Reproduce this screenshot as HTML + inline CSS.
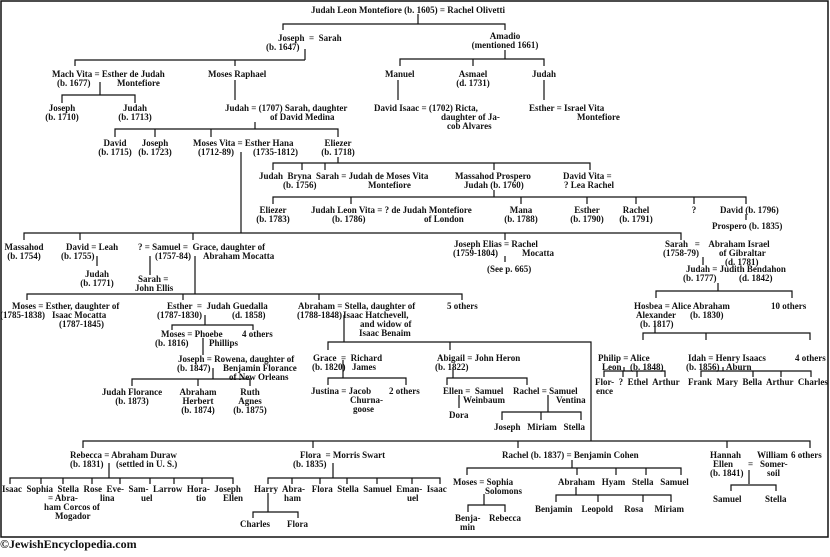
<!DOCTYPE html>
<html><head><meta charset="utf-8"><style>
html,body{margin:0;padding:0;background:#fff;}
#w{position:relative;width:830px;height:557px;overflow:hidden;font-family:"Liberation Serif",serif;font-weight:bold;font-size:9px;line-height:9px;color:#111;}
#w div{position:absolute;white-space:pre;}
.c{transform:translateX(-50%);text-align:center;}
svg{position:absolute;left:0;top:0;}
#ft{font-size:12px;line-height:12px;left:0;top:538px;}
</style></head><body><div id="w">
<svg width="830" height="557"><g stroke="#111" stroke-width="1.2" fill="none">
<rect x="1" y="1" width="827" height="536" stroke-width="1.5"/>
<path d="M418 14V24M283 30V24H505V30M305 49V60M75 66V60H305M235 66V60M505 50V59M400 66V59H544V66M473 59V66"/>
<path d="M100 82V95M62 103V95H135V103M235 80V100M398 80V100M544 80V100"/>
<path d="M255 122V129M115 137V129H338V137M155 129V137M211 129V137M241 152V233M338 157V163M273 170V163H590V170M302 163V170M325 163V170M494 163V170"/>
<path d="M494 190V197M273 204V197H746V204M351 197V204M521 197V204M587 197V204M636 197V204M694 197V204M746 214V220"/>
<path d="M24 240V233H681V240M80 233V240M193 233V240M505 233V240M505 256V262M97 256V266M150 256V275M195 256V294M703 257V265"/>
<path d="M27 300V294H462V300M183 294V300M319 294V300M718 283V291M656 298V291H792V298"/>
<path d="M205 315V325M172 330V325H253V330M203 338V355M213 368V379M132 386V379H250V386M198 379V386"/>
<path d="M344 315V342M328 350V342H591V441M450 342V350M343 360V378M328 385V378H406V385"/>
<path d="M655 323V333M643 340V333H810V340M706 333V340"/>
<path d="M624 367V371M604 377V371H665V377M623 371V377M637 371V377M723 367V371M701 377V371H811V377M753 371V377M781 371V377"/>
<path d="M453 367V378M447 385V378H527V385M459 395V408M548 395V412M502 420V412H581V420M541 412V420"/>
<path d="M83 448V441H810V448M313 441V448M518 441V448M727 441V448"/>
<path d="M109 463V478M10 484V478H233V484M41 478V484M63 478V484M92 478V484M120 478V484M150 478V484M174 478V484M202 478V484"/>
<path d="M333 463V478M268 484V478H440V484M292 478V484M320 478V484M347 478V484M377 478V484M412 478V484M268 493V512M253 518V512H298V518"/>
<path d="M572 460V468M467 475V468H681V475M577 468V475M616 468V475M646 468V475M484 494V505M468 512V505H505V512M576 487V495M556 502V495H671V502M598 495V502M643 495V502"/>
<path d="M749 470V484M731 491V485H776V491"/>
</g></svg>
<div style="left:311px;top:6px">Judah Leon Montefiore (b. 1605) = Rachel Olivetti</div>
<div style="left:278px;top:34px">Joseph  =  Sarah</div><div style="left:266px;top:43px">(b. 1647)</div>
<div class="c" style="left:505px;top:32px">Amadio
(mentioned 1661)</div>
<div style="left:52px;top:70px">Mach Vita = Esther de Judah</div><div style="left:57px;top:79px">(b. 1677)</div><div style="left:117px;top:79px">Montefiore</div>
<div style="left:208px;top:70px">Moses Raphael</div>
<div style="left:385px;top:70px">Manuel</div>
<div class="c" style="left:473px;top:70px">Asmael
(d. 1731)</div>
<div class="c" style="left:544px;top:70px">Judah</div>
<div class="c" style="left:62px;top:104px">Joseph
(b. 1710)</div>
<div class="c" style="left:135px;top:104px">Judah
(b. 1713)</div>
<div style="left:225px;top:104px">Judah = (1707) Sarah, daughter</div><div style="left:270px;top:113px">of David Medina</div>
<div style="left:374px;top:104px">David Isaac = (1702) Ricta,</div><div style="left:441px;top:113px">daughter of Ja-</div><div style="left:447px;top:122px">cob Alvares</div>
<div style="left:529px;top:104px">Esther = Israel Vita</div><div style="left:577px;top:113px">Montefiore</div>
<div class="c" style="left:115px;top:139px">David
(b. 1715)</div>
<div class="c" style="left:155px;top:139px">Joseph
(b. 1723)</div>
<div style="left:193px;top:139px">Moses Vita = Esther Hana</div><div style="left:198px;top:148px">(1712-89)</div><div style="left:253px;top:148px">(1735-1812)</div>
<div class="c" style="left:338px;top:139px">Eliezer
(b. 1718)</div>
<div style="left:259px;top:172px">Judah  Bryna  Sarah = Judah de Moses Vita</div><div style="left:283px;top:181px">(b. 1756)</div><div style="left:368px;top:181px">Montefiore</div>
<div style="left:455px;top:172px">Massahod Prospero</div><div style="left:464px;top:181px">Judah (b. 1760)</div>
<div style="left:563px;top:172px">David Vita =</div><div style="left:564px;top:181px">? Lea Rachel</div>
<div class="c" style="left:273px;top:206px">Eliezer
(b. 1783)</div>
<div style="left:311px;top:206px">Judah Leon Vita = ? de Judah Montefiore</div><div style="left:332px;top:215px">(b. 1786)</div><div style="left:424px;top:215px">of London</div>
<div class="c" style="left:521px;top:206px">Mana
(b. 1788)</div>
<div class="c" style="left:587px;top:206px">Esther
(b. 1790)</div>
<div class="c" style="left:636px;top:206px">Rachel
(b. 1791)</div>
<div class="c" style="left:694px;top:206px">?</div>
<div style="left:720px;top:206px">David (b. 1796)</div><div style="left:712px;top:222px">Prospero (b. 1835)</div>
<div class="c" style="left:24px;top:243px">Massahod
(b. 1754)</div>
<div style="left:66px;top:243px">David = Leah</div><div style="left:61px;top:252px">(b. 1755)</div>
<div class="c" style="left:97px;top:270px">Judah
(b. 1771)</div>
<div style="left:138px;top:243px">? = Samuel =  Grace, daughter of</div><div style="left:155px;top:252px">(1757-84)</div><div style="left:203px;top:252px">Abraham Mocatta</div>
<div style="left:138px;top:275px">Sarah =</div><div style="left:135px;top:284px">John Ellis</div>
<div style="left:454px;top:240px">Joseph Elias = Rachel</div><div style="left:453px;top:249px">(1759-1804)</div><div style="left:522px;top:249px">Mocatta</div>
<div style="left:487px;top:265px">(See p. 665)</div>
<div style="left:665px;top:240px">Sarah   =    Abraham Israel</div><div style="left:663px;top:249px">(1758-79)</div><div style="left:719px;top:249px">of Gibraltar</div><div style="left:725px;top:258px">(d. 1781)</div>
<div style="left:686px;top:265px">Judah = Judith Bendahon</div><div style="left:683px;top:274px">(b. 1777)</div><div style="left:739px;top:274px">(d. 1842)</div>
<div style="left:12px;top:302px">Moses = Esther, daughter of</div><div style="left:0px;top:311px">(1785-1838)</div><div style="left:52px;top:311px">Isaac Mocatta</div><div style="left:59px;top:320px">(1787-1845)</div>
<div style="left:167px;top:302px">Esther  =  Judah Guedalla</div><div style="left:157px;top:311px">(1787-1830)</div><div style="left:232px;top:311px">(d. 1858)</div>
<div style="left:298px;top:302px">Abraham = Stella, daughter of</div><div style="left:297px;top:311px">(1788-1848)</div><div style="left:343px;top:311px">Isaac Hatchevell,</div><div style="left:360px;top:320px">and widow of</div><div style="left:359px;top:329px">Isaac Benaim</div>
<div style="left:447px;top:302px">5 others</div>
<div style="left:634px;top:302px">Hosbea = Alice Abraham</div><div style="left:636px;top:311px">Alexander</div><div style="left:640px;top:320px">(b. 1817)</div><div style="left:690px;top:311px">(b. 1830)</div>
<div style="left:771px;top:302px">10 others</div>
<div style="left:161px;top:330px">Moses = Phoebe</div><div style="left:155px;top:339px">(b. 1816)</div><div style="left:209px;top:339px">Phillips</div><div style="left:242px;top:330px">4 others</div>
<div style="left:178px;top:355px">Joseph = Rowena, daughter of</div><div style="left:177px;top:364px">(b. 1847)</div><div style="left:223px;top:364px">Benjamin Florance</div><div style="left:229px;top:373px">of New Orleans</div>
<div class="c" style="left:132px;top:388px">Judah Florance
(b. 1873)</div>
<div class="c" style="left:198px;top:388px">Abraham
Herbert
(b. 1874)</div>
<div class="c" style="left:250px;top:388px">Ruth
Agnes
(b. 1875)</div>
<div style="left:313px;top:354px">Grace  =  Richard</div><div style="left:312px;top:363px">(b. 1820)</div><div style="left:352px;top:363px">James</div>
<div style="left:311px;top:387px">Justina = Jacob</div><div style="left:350px;top:396px">Churna-</div><div style="left:353px;top:405px">goose</div><div style="left:389px;top:387px">2 others</div>
<div style="left:437px;top:354px">Abigail = John Heron</div><div style="left:435px;top:363px">(b. 1822)</div>
<div style="left:443px;top:387px">Ellen =  Samuel</div><div style="left:463px;top:396px">Weinbaum</div><div style="left:449px;top:411px">Dora</div>
<div style="left:513px;top:387px">Rachel = Samuel</div><div style="left:556px;top:396px">Ventina</div>
<div style="left:494px;top:423px">Joseph   Miriam   Stella</div>
<div style="left:598px;top:354px">Philip = Alice</div><div style="left:602px;top:363px">Leon</div><div style="left:630px;top:363px">(b. 1848)</div>
<div style="left:688px;top:354px">Idah = Henry Isaacs</div><div style="left:686px;top:363px">(b. 1856)</div><div style="left:726px;top:363px">Aburn</div><div style="left:795px;top:354px">4 others</div>
<div style="left:595px;top:378px">Flor-  ?  Ethel  Arthur</div><div style="left:596px;top:387px">ence</div>
<div style="left:688px;top:378px">Frank  Mary  Bella  Arthur  Charles</div>
<div style="left:70px;top:451px">Rebecca = Abraham Duraw</div><div style="left:70px;top:460px">(b. 1831)</div><div style="left:116px;top:460px">(settled in U. S.)</div>
<div style="left:2px;top:485px">Isaac  Sophia  Stella  Rose  Eve-  Sam-  Larrow  Hora-  Joseph</div>
<div style="left:48px;top:494px">= Abra-</div><div style="left:100px;top:494px">lina</div><div style="left:141px;top:494px">uel</div><div style="left:196px;top:494px">tio</div><div style="left:223px;top:494px">Ellen</div>
<div style="left:44px;top:503px">ham Corcos of</div><div style="left:55px;top:512px">Mogador</div>
<div style="left:300px;top:451px">Flora  = Morris Swart</div><div style="left:293px;top:460px">(b. 1835)</div>
<div style="left:254px;top:485px">Harry  Abra-   Flora  Stella  Samuel  Eman-  Isaac</div><div style="left:284px;top:494px">ham</div><div style="left:407px;top:494px">uel</div>
<div style="left:240px;top:520px">Charles</div><div style="left:287px;top:520px">Flora</div>
<div style="left:502px;top:451px">Rachel (b. 1837) = Benjamin Cohen</div>
<div style="left:453px;top:478px">Moses = Sophia</div><div style="left:485px;top:487px">Solomons</div>
<div style="left:455px;top:514px">Benja-</div><div style="left:460px;top:523px">min</div><div style="left:489px;top:514px">Rebecca</div>
<div style="left:558px;top:478px">Abraham   Hyam   Stella   Samuel</div>
<div style="left:535px;top:505px">Benjamin    Leopold     Rosa     Miriam</div>
<div style="left:710px;top:451px">Hannah</div><div style="left:713px;top:460px">Ellen</div><div style="left:710px;top:469px">(b. 1841)</div><div style="left:748px;top:460px">=</div>
<div style="left:757px;top:451px">William</div><div style="left:760px;top:460px">Somer-</div><div style="left:767px;top:469px">soil</div><div style="left:791px;top:451px">6 others</div>
<div style="left:713px;top:495px">Samuel</div><div style="left:765px;top:495px">Stella</div>
<div id="ft">©JewishEncyclopedia.com</div>
</div></body></html>
